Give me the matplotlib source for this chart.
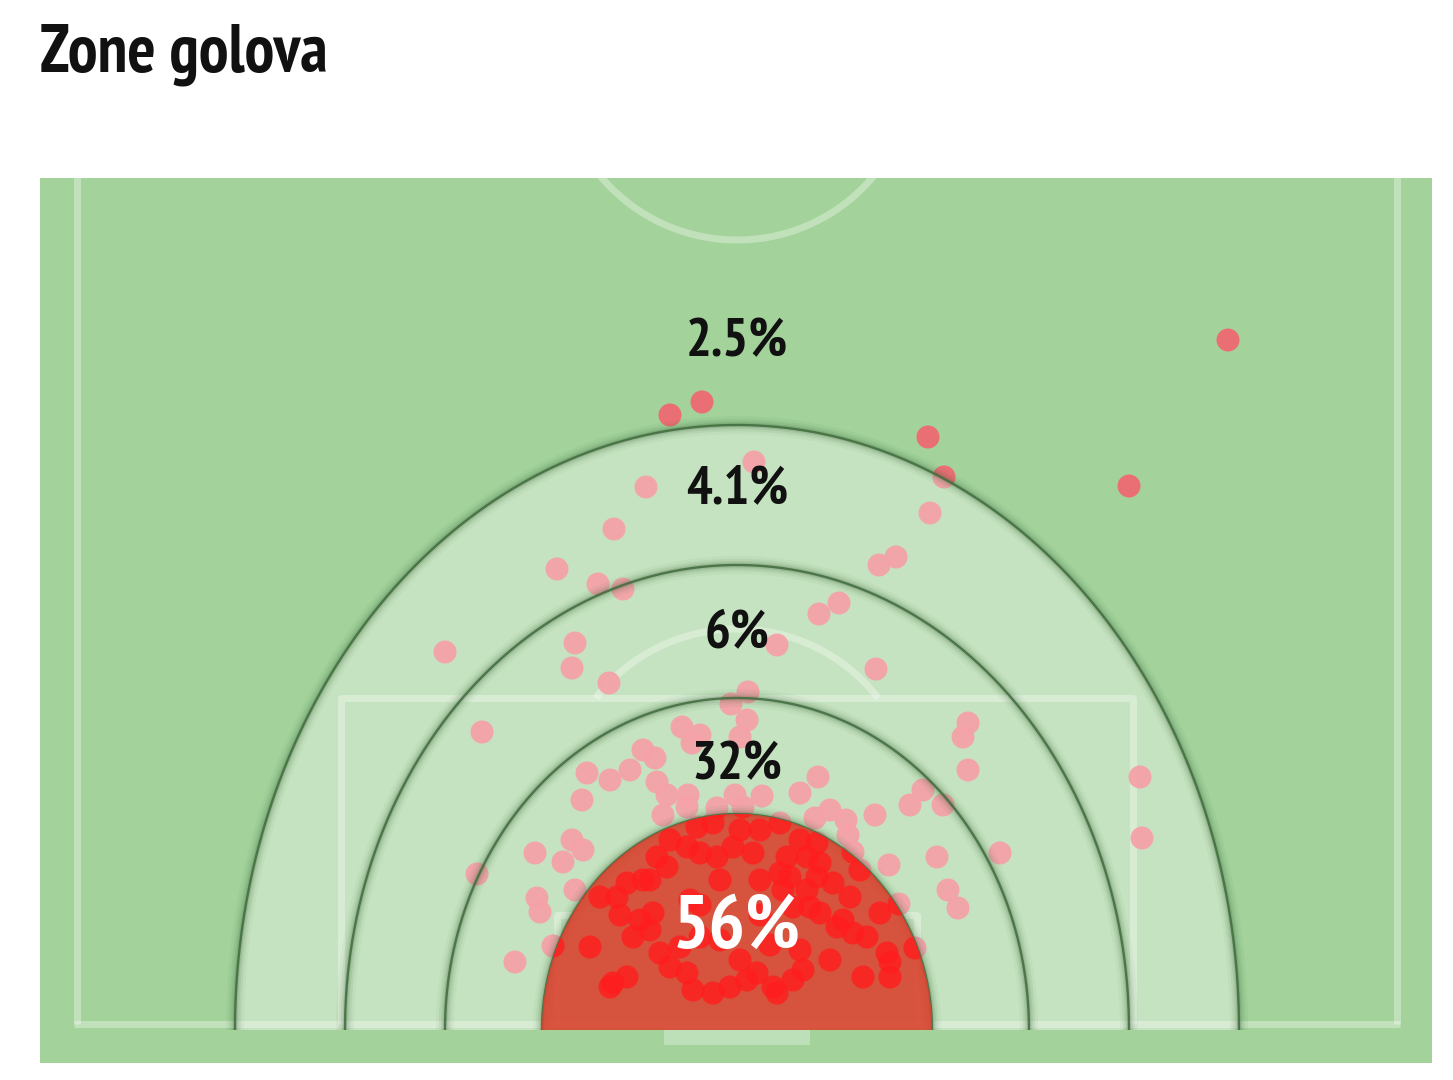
import numpy as np
import matplotlib
matplotlib.use("Agg")
import matplotlib.pyplot as plt
from matplotlib.patches import Polygon, Rectangle, Arc, Circle

# ---------------- data ----------------
title = "Zone golova"
zone_labels = ["56%", "32%", "6%", "4.1%", "2.5%"]
# zone boundaries (semi-axes, pitch units; origin = centre of goal line)
zone_a = [195, 292, 392, 502]
zone_b = [216, 332, 465, 605]
label_base_y = [82, 251, 383, 527, 674]

# shot locations (pitch units: x from goal centre, y up from goal line)
shot_x = [491, -35, -67, 191, 392, 207, 17, -91, -123, 193, -180, -139, -114, 142, 159,
          -292, -255, -260, 403, 405, 82, 102, -162, -165, 40, 139, -128, 231, 226, 231,
          11, -6, 10, -55, -37, -45, -94, -82, -150, -127, -107, -80, -70, -49, -50, -74,
          -155, -2, 6, -20, 25, 3, 63, 81, 78, 93, 109, 111, 138, 173, 186, 206, 200, 263,
          152, 116, 211, 221, 162, 178, -165, -154, -202, -174, -162, -200, -197, -184,
          -222, -127,
          -40, -24, 3, -50, -80, -70, -20, -4, 16, 50, 70, 83, 53, 46, 113, 106, 116, 130,
          143, 150, 153, 126, 93, 66, 56, 36, -7, 10, -24, -44, -50, -124, -110, -147, -97,
          -87, -104, -77, -67, -120, -110, -137, -94, -57, -37, 73, 83, 70, 96, 43, 63, 80,
          -37, -84, 80, 100, 43, 56, 20, 153, -37, 23, -17, 33, 40,
          23, -67, -117, 23, -17, -47, 3, 63, 123, -87]
shot_y = [690, 628, 615, 593, 544, 553, 568, 543, 501, 517, 461, 446, 441, 465, 473,
          378, 298, 156, 253, 192, 416, 427, 387, 362, 385, 361, 347, 307, 293, 260,
          338, 326, 310, 303, 295, 287, 280, 272, 257, 250, 260, 248, 235, 235, 223, 215,
          230, 235, 223, 222, 234, 293, 237, 253, 212, 220, 210, 195, 215, 225, 240, 225, 173, 177,
          165, 178, 140, 122, 126, 82, 190, 180, 177, 168, 140, 132, 118, 84,
          68, 43,
          203, 207, 200, 183, 173, 163, 173, 183, 177, 173, 173, 167, 153, 140, 133, 110, 97, 93,
          117, 77, 53, 53, 70, 60, 50, 43, 43, 50, 37, 40, 57, 47, 53, 83, 110,
          100, 93, 77, 63, 133, 147, 133, 150, 83, 93, 123, 117, 140, 147, 207, 190, 187,
          177, 117, 153, 103, 157, 123, 57, 68, 125, 115, 90, 85, 37,
          200, 190, 115, 150, 150, 130, 70, 80, 160, 150]

# ---------------- figure ----------------
W, H = 1453, 1080
fig = plt.figure(figsize=(W / 100, H / 100), dpi=100)
fig.patch.set_facecolor("white")
ax = fig.add_axes([40 / W, 17 / H, 1392 / W, 885 / H])
ax.set_xlim(-697, 695)
ax.set_ylim(-33, 852)
ax.set_facecolor("#a3d39b")
for s in ax.spines.values():
    s.set_visible(False)
ax.set_xticks([])
ax.set_yticks([])

FONT = ["PT Sans Narrow", "DejaVu Sans"]

# pitch markings
lc = dict(color="white", alpha=0.33, lw=5, solid_capstyle="butt", zorder=1)
ax.plot([-660, -660], [6, 860], **lc)
ax.plot([660, 660], [6, 860], **lc)
ax.plot([-663, 663], [6, 6], **lc)
ax.plot([-396, -396, 396, 396], [6, 332, 332, 6], **lc)
ax.plot([-180, -180, 180, 180], [6, 115, 115, 6], **lc)
ax.add_patch(Rectangle((-73, -15), 146, 15, facecolor="white", alpha=0.3,
                       edgecolor="none", zorder=1))
ax.add_patch(Arc((0, 222), 358, 358, theta1=37.9, theta2=142.1,
                 color="white", alpha=0.33, lw=5, zorder=1))
ax.add_patch(Circle((0, 968), 178, fill=False, edgecolor="white", alpha=0.33,
                    lw=5, zorder=1))

# all shots (base colour)
sx = np.array(shot_x, float)
sy = np.array(shot_y, float)
ax.scatter(sx, sy, s=275, color="#ef6a73", alpha=0.95, edgecolors="none", zorder=2)


def half_ellipse(a, b, n=500):
    t = np.linspace(0, np.pi, n)
    return a * np.cos(t), b * np.sin(t)


# light overlay of the zones
ox, oy = half_ellipse(zone_a[-1], zone_b[-1])
ax.add_patch(Polygon(np.column_stack([ox, oy]), closed=True, facecolor="white",
                     alpha=0.38, edgecolor="none", zorder=3))


def boundary(a, b, z):
    x, y = half_ellipse(a, b)
    for lw, al in [(13, 0.045), (9, 0.065), (6, 0.09), (3.5, 0.14)]:
        ax.plot(x, y, color="#2f5a2d", lw=lw, alpha=al, solid_capstyle="butt", zorder=z)
    ax.plot(x, y, color="#3f6b3c", lw=1.7, alpha=0.85, solid_capstyle="butt", zorder=z)


for a, b in zip(zone_a[1:], zone_b[1:]):
    boundary(a, b, 4)

# red core zone
rx, ry = half_ellipse(zone_a[0], zone_b[0])
red_patch = Polygon(np.column_stack([rx, ry]), closed=True, facecolor="#d9432f",
                    alpha=0.9, edgecolor="none", zorder=5)
ax.add_patch(red_patch)
boundary(zone_a[0], zone_b[0], 4.5)
sc = ax.scatter(sx, sy, s=275, color="#ff1e1e", alpha=0.8, edgecolors="none", zorder=6)
sc.set_clip_path(red_patch)

# labels
for i, (lab, yb) in enumerate(zip(zone_labels, label_base_y)):
    if i == 0:
        ax.text(0, yb, lab, ha="center", va="baseline", fontsize=55,
                fontweight="bold", color="white", family=FONT, zorder=8)
    else:
        ax.text(0, yb, lab, ha="center", va="baseline", fontsize=39,
                fontweight="bold", color="#111111", family=FONT, zorder=8)

fig.text(40 / W, 1 - 71 / H, title, ha="left", va="baseline", fontsize=48,
         fontweight="bold", color="#111111", family=FONT)

fig.savefig("out.png", dpi=100, facecolor="white")
